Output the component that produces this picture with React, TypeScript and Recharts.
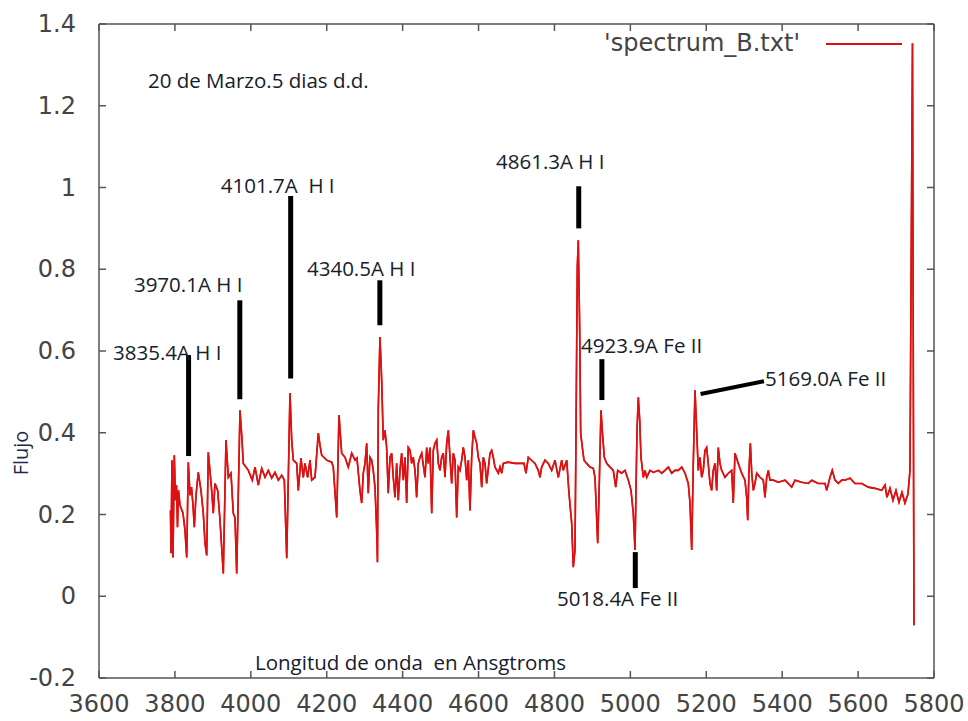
import React from "react"
import { LineChart, Line, XAxis, YAxis, ReferenceLine, ReferenceDot, Legend } from "recharts"

// spectrum (Angstrom, flux)
const wavelength = [
  3788.4, 3789.7, 3792.3, 3795.0, 3798.4, 3801.5, 3804.2, 3806.8, 3809.5, 3813.4,
  3821.3, 3826.6, 3831.1, 3835.3, 3839.8, 3843.7, 3847.7, 3851.1, 3855.6, 3861.6,
  3868.7, 3874.8, 3879.3, 3883.8, 3887.9, 3896.9, 3901.1, 3905.6, 3912.7, 3918.8,
  3927.5, 3934.6, 3940.7, 3947.8, 3953.8, 3958.3, 3962.8, 3971.5, 3976.0, 3980.2,
  3993.4, 4003.9, 4011.0, 4019.7, 4028.7, 4037.4, 4046.1, 4055.0, 4063.7, 4072.4,
  4081.4, 4088.3, 4094.6, 4103.2, 4107.7, 4111.9, 4120.9, 4125.1, 4132.2, 4138.3,
  4142.7, 4149.8, 4155.9, 4160.4, 4169.1, 4177.8, 4182.3, 4186.7, 4199.9, 4213.1,
  4217.3, 4226.3, 4232.3, 4239.4, 4248.1, 4256.8, 4265.8, 4274.5, 4279.7, 4287.6,
  4292.1, 4296.3, 4300.8, 4305.3, 4309.4, 4313.9, 4318.4, 4322.6, 4327.2, 4331.6,
  4333.7, 4335.8, 4340.3, 4344.8, 4349.0, 4353.5, 4357.9, 4362.1, 4366.7, 4371.1,
  4375.3, 4379.9, 4384.3, 4388.5, 4393.0, 4397.5, 4401.7, 4406.2, 4410.6, 4414.8,
  4419.4, 4423.8, 4428.0, 4432.6, 4437.0, 4441.2, 4445.7, 4450.2, 4458.9, 4463.4,
  4467.6, 4472.1, 4476.6, 4480.8, 4485.3, 4489.8, 4494.0, 4498.4, 4502.9, 4507.1,
  4511.6, 4516.1, 4520.3, 4529.2, 4533.4, 4537.9, 4542.4, 4546.6, 4551.1, 4555.6,
  4559.8, 4564.3, 4568.8, 4573.0, 4577.5, 4581.9, 4586.2, 4590.6, 4595.1, 4599.3,
  4603.8, 4608.3, 4612.5, 4617.0, 4621.4, 4630.2, 4634.6, 4638.8, 4643.3, 4652.0,
  4656.5, 4661.0, 4665.2, 4677.6, 4696.0, 4719.7, 4725.0, 4731.1, 4748.7, 4757.4,
  4761.9, 4766.3, 4775.0, 4783.7, 4792.7, 4801.4, 4810.1, 4819.1, 4823.3, 4832.3,
  4838.3, 4845.4, 4849.6, 4854.1, 4856.7, 4860.2, 4862.8, 4866.5, 4869.1, 4873.4,
  4877.8, 4884.9, 4893.6, 4902.3, 4906.8, 4913.9, 4917.3, 4922.6, 4926.0, 4931.3,
  4937.6, 4946.3, 4955.0, 4961.4, 4966.6, 4977.1, 4985.9, 4994.6, 5001.7, 5007.7,
  5012.2, 5017.5, 5020.9, 5024.6, 5028.0, 5034.1, 5038.6, 5043.1, 5051.7, 5060.4,
  5073.6, 5082.6, 5091.3, 5100.0, 5108.9, 5117.6, 5126.3, 5135.3, 5144.0, 5152.6,
  5157.1, 5161.6, 5165.8, 5170.3, 5174.7, 5178.9, 5183.4, 5187.9, 5192.1, 5196.6,
  5201.0, 5205.2, 5209.8, 5214.2, 5218.4, 5222.9, 5227.4, 5231.6, 5236.1, 5240.5,
  5249.3, 5258.0, 5266.9, 5271.1, 5275.7, 5284.4, 5293.3, 5302.0, 5306.5, 5309.2,
  5312.6, 5316.1, 5319.8, 5324.0, 5328.4, 5332.9, 5341.5, 5350.2, 5354.7, 5359.2,
  5363.4, 5367.9, 5376.6, 5389.8, 5407.4, 5425.1, 5433.8, 5451.4, 5468.8, 5477.8,
  5495.2, 5512.8, 5517.3, 5526.0, 5532.0, 5539.1, 5547.8, 5556.8, 5565.5, 5578.7,
  5591.8, 5609.5, 5626.9, 5644.5, 5662.2, 5670.9, 5676.1, 5684.0, 5691.9, 5699.8,
  5707.7, 5715.6, 5723.5, 5731.4, 5736.7, 5743.3, 5747.2,
]
const flux = [
  0.210, 0.105, 0.333, 0.095, 0.345, 0.235, 0.272, 0.169, 0.259, 0.223,
  0.203, 0.161, 0.095, 0.328, 0.247, 0.267, 0.223, 0.169, 0.247, 0.303,
  0.259, 0.203, 0.130, 0.100, 0.352, 0.259, 0.203, 0.276, 0.259, 0.186,
  0.056, 0.382, 0.291, 0.301, 0.203, 0.193, 0.056, 0.455, 0.394, 0.325,
  0.308, 0.284, 0.316, 0.272, 0.313, 0.291, 0.308, 0.289, 0.303, 0.284,
  0.296, 0.284, 0.093, 0.497, 0.382, 0.333, 0.325, 0.259, 0.338, 0.291,
  0.325, 0.291, 0.333, 0.284, 0.291, 0.399, 0.369, 0.345, 0.333, 0.328,
  0.316, 0.193, 0.443, 0.350, 0.340, 0.316, 0.350, 0.333, 0.338, 0.259,
  0.228, 0.301, 0.325, 0.374, 0.252, 0.340, 0.333, 0.308, 0.267, 0.161,
  0.083, 0.455, 0.634, 0.528, 0.382, 0.406, 0.364, 0.252, 0.340, 0.350,
  0.291, 0.242, 0.325, 0.235, 0.308, 0.350, 0.284, 0.340, 0.228, 0.364,
  0.357, 0.325, 0.340, 0.308, 0.242, 0.325, 0.340, 0.350, 0.291, 0.364,
  0.325, 0.364, 0.203, 0.357, 0.374, 0.382, 0.325, 0.308, 0.340, 0.350,
  0.291, 0.374, 0.406, 0.276, 0.350, 0.333, 0.193, 0.316, 0.308, 0.333,
  0.364, 0.340, 0.284, 0.333, 0.210, 0.340, 0.406, 0.389, 0.374, 0.340,
  0.325, 0.267, 0.340, 0.325, 0.276, 0.350, 0.357, 0.340, 0.316, 0.301,
  0.316, 0.301, 0.325, 0.328, 0.325, 0.325, 0.301, 0.340, 0.325, 0.308,
  0.291, 0.316, 0.333, 0.325, 0.308, 0.333, 0.291, 0.333, 0.308, 0.333,
  0.252, 0.179, 0.071, 0.113, 0.389, 0.805, 0.871, 0.651, 0.399, 0.364,
  0.333, 0.325, 0.316, 0.313, 0.291, 0.130, 0.242, 0.455, 0.406, 0.340,
  0.325, 0.316, 0.308, 0.267, 0.308, 0.301, 0.308, 0.284, 0.259, 0.203,
  0.113, 0.406, 0.487, 0.431, 0.340, 0.291, 0.308, 0.291, 0.308, 0.303,
  0.308, 0.301, 0.308, 0.316, 0.301, 0.308, 0.308, 0.316, 0.301, 0.276,
  0.228, 0.113, 0.325, 0.504, 0.406, 0.308, 0.340, 0.291, 0.308, 0.357,
  0.364, 0.325, 0.276, 0.259, 0.308, 0.325, 0.259, 0.364, 0.325, 0.308,
  0.291, 0.301, 0.308, 0.228, 0.350, 0.325, 0.301, 0.284, 0.242, 0.186,
  0.308, 0.374, 0.301, 0.259, 0.276, 0.301, 0.291, 0.284, 0.242, 0.291,
  0.308, 0.284, 0.284, 0.279, 0.284, 0.267, 0.284, 0.279, 0.276, 0.284,
  0.276, 0.276, 0.259, 0.291, 0.308, 0.284, 0.276, 0.284, 0.284, 0.289,
  0.276, 0.276, 0.267, 0.264, 0.259, 0.272, 0.242, 0.264, 0.235, 0.259,
  0.230, 0.254, 0.228, 0.250, 0.308, 1.353, -0.071,
]

const xTicks = [3600, 3800, 4000, 4200, 4400, 4600, 4800, 5000, 5200, 5400, 5600, 5800]
const yTicks = [-0.2, 0, 0.2, 0.4, 0.6, 0.8, 1, 1.2, 1.4]
const xRange = [3600, 5800]
const yRange = [-0.2, 1.4]

// black marker bars drawn by hand on the plot
const markerWavelength = [3836, 3971, 4105, 4340, 4864, 4925, 5013]
const markerTop = [0.59, 0.724, 0.979, 0.773, 1.003, 0.58, 0.108]
const markerBottom = [0.343, 0.482, 0.533, 0.663, 0.9, 0.48, 0.02]
const pointerWavelength = [5185, 5352]
const pointerFlux = [0.495, 0.526]

const noteText = [
  "20 de Marzo.5 dias d.d.",
  "3835.4A H I",
  "3970.1A H I",
  "4101.7A  H I",
  "4340.5A H I",
  "4861.3A H I",
  "4923.9A Fe II",
  "5018.4A Fe II",
  "5169.0A Fe II",
  "Longitud de onda  en Ansgtroms",
]
const noteWavelength = [3729, 3637, 3692, 3921, 4148, 4646, 4870, 4807, 5355, 4011]
const noteFlux = [1.262, 0.597, 0.763, 1.005, 0.802, 1.064, 0.614, -0.005, 0.533, -0.162]

const data = wavelength.map((wl, i) => ({ wl, flux: flux[i] }))

const TICK_FONT = "'DejaVu Sans', sans-serif"
const NOTE_FONT = "'Open Sans', sans-serif"

// only the label; recharts draws the (inward, negative tickSize) tick line itself
function LeftTick(props: any) {
  return (
    <text x={props.x} y={props.y} textAnchor="end" dominantBaseline="central" fontFamily={TICK_FONT} fontSize={24} fill="#444">
      {String(props.payload.value)}
    </text>
  )
}

function BottomTick(props: any) {
  return (
    <text x={props.x} y={props.y} textAnchor="middle" dominantBaseline="central" fontFamily={TICK_FONT} fontSize={24} fill="#444">
      {props.payload.value}
    </text>
  )
}

function NoTick() {
  return <g />
}

function NoteLabel({ viewBox, text }: any) {
  return (
    <text
      x={viewBox.x}
      y={viewBox.y}
      dominantBaseline="central"
      fontFamily={NOTE_FONT}
      fontSize={20.5}
      fill="#16202c"
      style={{ whiteSpace: "pre" }}
    >
      {text}
    </text>
  )
}

function FlujoLabel({ viewBox }: any) {
  const cx = viewBox.x + 20
  const cy = viewBox.y + 429
  return (
    <text
      x={cx}
      y={cy}
      transform={`rotate(-90, ${cx}, ${cy})`}
      textAnchor="middle"
      dominantBaseline="central"
      fontFamily={NOTE_FONT}
      fontSize={20}
      fill="#1c2a4a"
    >
      Flujo
    </text>
  )
}

function LegendBox({ payload }: any) {
  const item = payload && payload[0]
  if (!item) return null
  return (
    <div>
      <div
        style={{
          position: "absolute",
          left: 500,
          top: 27,
          width: 300,
          textAlign: "right",
          fontFamily: TICK_FONT,
          fontSize: 24,
          lineHeight: "32px",
          color: "#444",
          whiteSpace: "nowrap",
        }}
      >
        {item.value}
      </div>
      <div style={{ position: "absolute", left: 826, top: 43, width: 76, height: 1.5, background: item.color }} />
    </div>
  )
}

export default function App() {
  return (
    <div style={{ position: "absolute", left: 0, top: 0, width: 968, height: 721, background: "#fff" }}>
      <LineChart width={968} height={721} data={data} margin={{ top: 0, right: 0, bottom: 0, left: 0 }}>
        <XAxis
          dataKey="wl"
          type="number"
          domain={xRange}
          ticks={xTicks}
          height={43}
          stroke="#555555"
          strokeWidth={1.5}
          tickSize={-7}
          tickMargin={33}
          tick={<BottomTick />}
        />
        <XAxis
          xAxisId="top"
          orientation="top"
          dataKey="wl"
          type="number"
          domain={xRange}
          ticks={xTicks}
          height={24}
          stroke="#555555"
          strokeWidth={1.5}
          tickSize={-7}
          tick={<NoTick />}
        />
        <YAxis
          type="number"
          domain={yRange}
          ticks={yTicks}
          width={99}
          stroke="#555555"
          strokeWidth={1.5}
          tickSize={-7}
          tickMargin={30}
          tick={<LeftTick />}
          label={<FlujoLabel />}
        />
        <YAxis
          yAxisId="right"
          orientation="right"
          type="number"
          domain={yRange}
          ticks={yTicks}
          width={34}
          stroke="#555555"
          strokeWidth={1.5}
          tickSize={-7}
          tick={<NoTick />}
        />
        <Legend content={<LegendBox />} wrapperStyle={{ position: "absolute", left: 0, top: 0, width: 0, height: 0 }} />

        <Line
          type="linear"
          dataKey="flux"
          name="'spectrum_B.txt'"
          stroke="#dd1111"
          strokeWidth={1.6}
          dot={false}
          isAnimationActive={false}
        />
        {/* same series on the mirrored top/right axes, so those border axes get a scale */}
        <Line
          xAxisId="top"
          yAxisId="right"
          type="linear"
          dataKey="flux"
          stroke="#dd1111"
          strokeWidth={1.6}
          legendType="none"
          dot={false}
          activeDot={false}
          isAnimationActive={false}
        />
        {markerWavelength.map((wl, i) => (
          <ReferenceLine
            key={`m${wl}`}
            segment={[
              { x: wl, y: markerBottom[i] },
              { x: wl, y: markerTop[i] },
            ]}
            stroke="#000"
            strokeWidth={5}
            ifOverflow="visible"
          />
        ))}
        <ReferenceLine
          segment={[
            { x: pointerWavelength[0], y: pointerFlux[0] },
            { x: pointerWavelength[1], y: pointerFlux[1] },
          ]}
          stroke="#000"
          strokeWidth={4}
          ifOverflow="visible"
        />
        {noteText.map((t, i) => (
          <ReferenceDot
            key={t}
            x={noteWavelength[i]}
            y={noteFlux[i]}
            r={0}
            fill="none"
            stroke="none"
            ifOverflow="visible"
            label={<NoteLabel text={t} />}
          />
        ))}
      </LineChart>
    </div>
  )
}
